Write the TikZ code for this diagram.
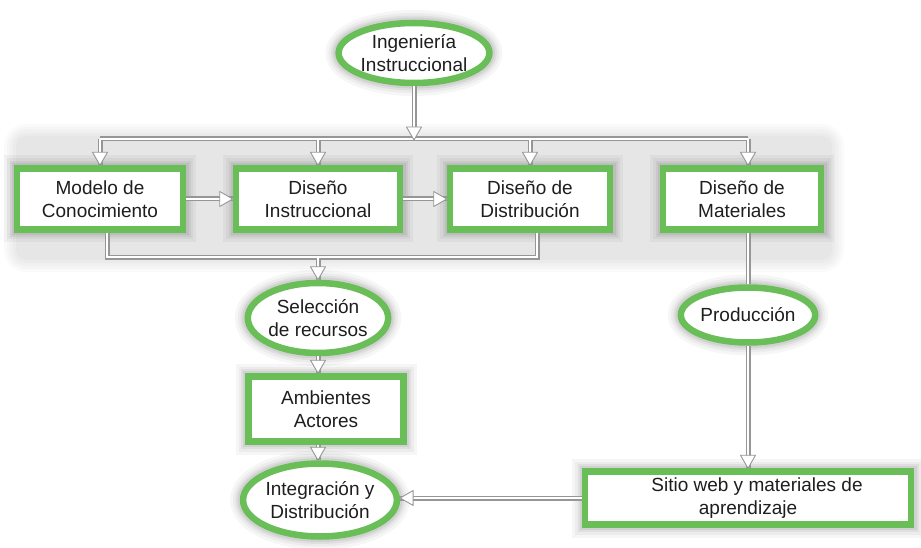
\documentclass[tikz,border=0pt]{standalone}
\usepackage{fontspec}
\setmainfont{Liberation Sans}
\usetikzlibrary{shapes.geometric}
\definecolor{gr}{RGB}{106,190,88}
\definecolor{ln}{RGB}{150,150,150}
\definecolor{tx}{RGB}{30,30,30}
\begin{document}
\begin{tikzpicture}[x=1pt,y=-1pt,
  halo/.style={
    preaction={draw=black,draw opacity=0.035,fill=none,line width=26pt},
    preaction={draw=black,draw opacity=0.04,fill=none,line width=20pt},
    preaction={draw=black,draw opacity=0.05,fill=none,line width=15pt},
    preaction={draw=black,draw opacity=0.06,fill=none,line width=11pt}},
  base/.style={draw=gr,line width=6.5pt,fill=white,align=center,inner sep=0pt,text=tx,
    font=\fontsize{19}{23}\selectfont,halo},
  box/.style={base,rectangle},
  oval/.style={base,ellipse},
  couter/.style={draw=ln,line width=5pt},
  cinner/.style={draw=white,line width=2.8pt},
  pics/tip/.style={code={\draw[draw=ln,fill=white,line width=0.9pt,line join=round]
      (0,0) -- (-13,7.5) -- (-13,-7.5) -- cycle;}}]
\useasboundingbox (0,0) rectangle (921,548);
\fill[white] (0,0) rectangle (921,548);
% soft grey band behind the upper row
\foreach \d [evaluate=\d as \r using 10+\d] in {0,3,6,9,12}{
  \fill[black,fill opacity=0.018,rounded corners=\r pt] (16-\d,136-\d) rectangle (832+\d,260+\d);
}

% nodes
\node[oval,minimum width=132pt,minimum height=60pt] (ing) at (414,53) {Ingeniería\\Instruccional};
\node[box,minimum width=166pt,minimum height=61pt] (mc)  at (100,199) {Modelo de\\Conocimiento};
\node[box,minimum width=164pt,minimum height=61pt] (ins) at (318,199) {Diseño\\Instruccional};
\node[box,minimum width=160pt,minimum height=61pt] (dis) at (530,199) {Diseño de\\Distribución};
\node[box,minimum width=158pt,minimum height=61pt] (mat) at (742,199) {Diseño de\\Materiales};
\node[oval,minimum width=138pt,minimum height=70pt] (sel) at (318,318) {Selección\\de recursos};
\node[box,minimum width=155pt,minimum height=65pt] (amb) at (326,409) {Ambientes\\Actores};
\node[oval,minimum width=143pt,minimum height=73pt] (int) at (320,500) {Integración y\\Distribución};
\node[oval,minimum width=128pt,minimum height=55pt] (pro) at (748,315) {Producción};
\node[box,minimum width=326pt,minimum height=53pt] (sit) at (748,498) {\hspace*{18pt}Sitio web y materiales de\\aprendizaje};

\coordinate (bus) at (414,139);
\coordinate (bus2) at (318,257);
\coordinate (mcs) at ([xshift=7pt]mc.south);
\coordinate (diss) at ([xshift=7pt]dis.south);

% connectors: grey outline first, white core second
\foreach \st in {couter,cinner}{
  \draw[\st,line join=miter] (ing.south) -- (bus);
  \draw[\st] (mc.north |- bus) -- (pro.north |- bus);
  \draw[\st] (mc.north |- bus) -- (mc.north);
  \draw[\st] (ins.north |- bus) -- (ins.north);
  \draw[\st] (dis.north |- bus) -- (dis.north);
  \draw[\st] (pro.north |- bus) -- (pro.north |- mat.north);
  \draw[\st] (mc.east) -- (ins.west);
  \draw[\st] (ins.east) -- (dis.west);
  \draw[\st] (mcs) -- (mcs |- bus2) -- (diss |- bus2) -- (diss);
  \draw[\st] (bus2) -- (sel.north);
  \draw[\st] (sel.south) -- (sel.south |- amb.north);
  \draw[\st] (sel.south |- amb.south) -- (sel.south |- int.north);
  \draw[\st] (pro.north |- mat.south) -- (pro.north);
  \draw[\st] (pro.south) -- (sit.north);
  \draw[\st] (sit.west) -- (int.east |- sit.west);
}
% arrow heads
\pic[rotate=-90] at ([yshift=-1pt]bus) {tip};
\pic[rotate=-90] at (mc.north) {tip};
\pic[rotate=-90] at (ins.north) {tip};
\pic[rotate=-90] at (dis.north) {tip};
\pic[rotate=-90] at (pro.north |- mat.north) {tip};
\pic at (ins.west) {tip};
\pic at (dis.west) {tip};
\pic[rotate=-90] at (sel.north) {tip};
\pic[rotate=-90] at (sel.south |- amb.north) {tip};
\pic[rotate=-90] at (sel.south |- int.north) {tip};
\pic[rotate=-90] at (sit.north) {tip};
\pic[rotate=180] at (int.east |- sit.west) {tip};
\end{tikzpicture}
\end{document}
